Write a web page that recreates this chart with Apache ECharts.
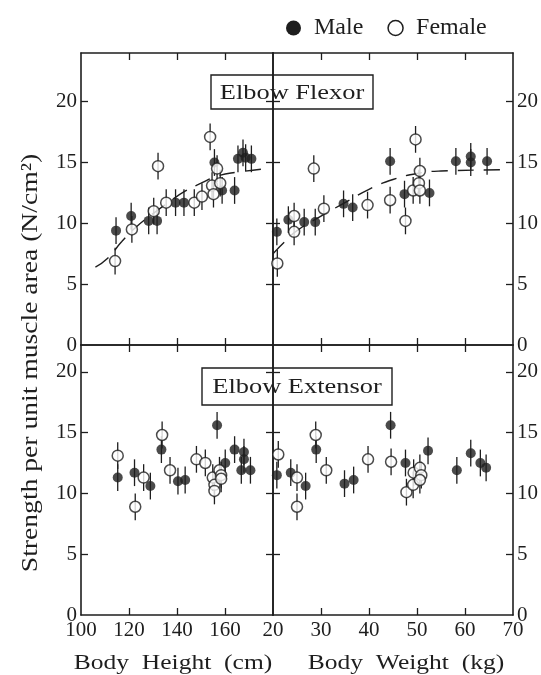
<!DOCTYPE html>
<html>
<head>
<meta charset="utf-8">
<script src="https://cdn.jsdelivr.net/npm/echarts@6/dist/echarts.min.js"></script>
<style>
  html, body { margin: 0; padding: 0; background: #fff; }
  #chart { width: 541px; height: 675px; }
</style>
</head>
<body>
<div id="chart"></div>
<script>
// Elbow flexor, strength vs body height (cm)
var flexHeightMale = [[114.6, 9.4], [120.9, 10.6], [128.2, 10.2], [131.7, 10.2], [139.4, 11.7], [142.9, 11.7],
  [155.6, 15.0], [158.8, 12.7], [164.0, 12.7], [165.4, 15.3], [167.5, 15.8], [168.6, 15.4], [171.0, 15.3]];
var flexHeightFemale = [[114.2, 6.9], [121.2, 9.5], [130.3, 11.0], [132.1, 14.7], [135.5, 11.7], [147.2, 11.7],
  [150.4, 12.2], [153.8, 17.1], [154.6, 13.1], [155.2, 12.4], [156.7, 14.5], [158.0, 13.3]];
var flexHeightFit = [[106, 6.4], [111, 7.1], [117, 8.5], [123, 9.7], [130, 10.8], [137, 11.8], [143, 12.6],
  [150, 13.3], [157, 13.9], [165, 14.2], [178, 14.5]];

// Elbow flexor, strength vs body weight (kg)
var flexWeightMale = [[20.8, 9.3], [23.2, 10.3], [26.5, 10.1], [28.8, 10.1], [34.7, 11.6], [36.6, 11.3],
  [44.4, 15.1], [47.4, 12.4], [52.6, 12.5], [58.1, 15.1], [61.2, 15.5], [61.2, 15.0], [64.6, 15.1]];
var flexWeightFemale = [[20.9, 6.7], [24.4, 10.6], [24.4, 9.3], [28.5, 14.5], [30.6, 11.2], [39.7, 11.5],
  [44.4, 11.9], [47.6, 10.2], [49.2, 12.7], [49.7, 16.9], [50.6, 14.3], [50.4, 13.3], [50.6, 12.7]];
var flexWeightFit = [[20, 7.5], [22.5, 8.5], [25, 9.4], [30, 10.6], [35, 11.7], [40, 12.8], [45, 13.6],
  [50, 14.1], [55, 14.3], [68, 14.4]];

// Elbow extensor, strength vs body height (cm)
var extHeightMale = [[115.3, 11.3], [122.3, 11.7], [128.9, 10.6], [133.5, 13.6], [140.4, 11.0], [143.4, 11.1],
  [156.7, 15.6], [160.1, 12.5], [164.0, 13.6], [167.9, 13.4], [167.9, 12.8], [166.8, 11.9], [170.6, 11.9]];
var extHeightFemale = [[115.3, 13.1], [122.6, 8.9], [126.1, 11.3], [133.8, 14.8], [137.1, 11.9], [148.1, 12.8],
  [151.8, 12.5], [154.9, 11.3], [155.6, 10.7], [155.6, 10.2], [157.7, 11.9], [158.4, 11.5], [158.4, 11.2]];

// Elbow extensor, strength vs body weight (kg)
var extWeightMale = [[20.8, 11.5], [23.7, 11.7], [26.8, 10.6], [29.0, 13.6], [34.9, 10.8], [36.8, 11.1],
  [44.5, 15.6], [47.6, 12.5], [52.3, 13.5], [58.3, 11.9], [61.2, 13.3], [63.2, 12.5], [64.4, 12.1]];
var extWeightFemale = [[21.1, 13.2], [25.0, 11.3], [25.0, 8.9], [28.9, 14.8], [31.1, 11.9], [39.8, 12.8],
  [44.6, 12.6], [47.8, 10.1], [49.2, 10.7], [49.3, 11.7], [50.6, 12.1], [50.9, 11.5], [50.6, 11.1]];

var heightTicks = [100, 120, 140, 160];
var weightTicks = [20, 30, 40, 50, 60, 70];
var strengthTicks = [0, 5, 10, 15, 20];
var ERR = 1.1;

var ink = '#1e1e1e';
var font = 'Liberation Serif';

var myChart = echarts.init(document.getElementById('chart'));

function xAx(grid, min, max, pos, labels, ticks) {
  return {
    type: 'value', gridIndex: grid, min: min, max: max, position: pos,
    axisLine: { show: true, onZero: false, lineStyle: { color: ink, width: 1.6 } },
    axisTick: { show: true, inside: true, length: 7, customValues: ticks, lineStyle: { color: ink, width: 1.3 } },
    axisLabel: { show: !!labels, customValues: labels || [], margin: 5, fontSize: 21, fontFamily: font, color: ink },
    splitLine: { show: false }
  };
}
function yAx(grid, max, pos, labels, ticks) {
  return {
    type: 'value', gridIndex: grid, min: 0, max: max, position: pos,
    axisLine: { show: true, onZero: false, lineStyle: { color: ink, width: 1.6 } },
    axisTick: { show: true, inside: true, length: 7, customValues: ticks, lineStyle: { color: ink, width: 1.3 } },
    axisLabel: { show: !!labels, customValues: labels || [], margin: 4, fontSize: 21, fontFamily: font, color: ink },
    splitLine: { show: false }
  };
}

function errBars(name, pts, xi, yi) {
  return {
    type: 'custom', name: name, xAxisIndex: xi, yAxisIndex: yi, data: pts, z: 2, silent: true,
    renderItem: function (params, api) {
      var a = api.coord([api.value(0), api.value(1) + ERR]);
      var b = api.coord([api.value(0), api.value(1) - ERR]);
      return { type: 'line', shape: { x1: a[0], y1: a[1], x2: b[0], y2: b[1] },
        style: { stroke: ink, lineWidth: 1.3 } };
    }
  };
}
function dots(name, pts, xi, yi) {
  var male = name === 'Male';
  return {
    type: 'scatter', name: name, xAxisIndex: xi, yAxisIndex: yi, data: pts, z: 3,
    symbol: 'circle', symbolSize: male ? 10 : 11,
    itemStyle: male ? { color: ink } : { color: '#fff', borderColor: ink, borderWidth: 1.5 }
  };
}
function fit(pts, xi, yi) {
  return {
    type: 'line', name: 'fit', xAxisIndex: xi, yAxisIndex: yi, data: pts, z: 1, smooth: true,
    showSymbol: false, silent: true,
    lineStyle: { color: ink, width: 1.4, type: [16, 10] }
  };
}

var series = [];
var panels = [
  [flexHeightMale, flexHeightFemale, 0, 0],
  [flexWeightMale, flexWeightFemale, 2, 2],
  [extHeightMale, extHeightFemale, 4, 4],
  [extWeightMale, extWeightFemale, 6, 6]
];
panels.forEach(function (p) {
  series.push(errBars('Male', p[0], p[2], p[3]));
  series.push(errBars('Female', p[1], p[2], p[3]));
  series.push(dots('Male', p[0], p[2], p[3]));
  series.push(dots('Female', p[1], p[2], p[3]));
});
series.push(fit(flexHeightFit, 0, 0));
series.push(fit(flexWeightFit, 2, 2));

function titleBox(x, y, w, h, txt) {
  return {
    type: 'group', z: 100,
    children: [
      { type: 'rect', shape: { x: x, y: y, width: w, height: h },
        style: { fill: '#fff', stroke: ink, lineWidth: 1.4 } },
      { type: 'text', x: x + w / 2, y: y + h / 2 + 1, scaleX: 1.2,
        style: { text: txt, fill: ink, font: '22px "Liberation Serif"', align: 'center', verticalAlign: 'middle' } }
    ]
  };
}

var option = {
  backgroundColor: '#fff',
  animation: false,
  legend: {
    left: 281, top: 11, itemGap: 24, itemWidth: 15, itemHeight: 15,
    textStyle: { fontSize: 24, fontFamily: font, color: ink, padding: [0, 0, 0, 8] },
    data: [
      { name: 'Male', icon: 'circle', itemStyle: { color: ink } },
      { name: 'Female', icon: 'circle', itemStyle: { color: '#fff', borderColor: ink, borderWidth: 1.5 } }
    ]
  },
  grid: [
    { left: 81, top: 53, width: 192, height: 292 },
    { left: 273, top: 53, width: 242, height: 292 },
    { left: 81, top: 345, width: 192, height: 270 },
    { left: 273, top: 345, width: 242, height: 270 }
  ],
  xAxis: [
    xAx(0, 100, 180, 'bottom', null, [120, 140, 160]),
    xAx(0, 100, 180, 'top', null, [120, 140, 160]),
    xAx(1, 20, 70, 'bottom', null, [30, 40, 50, 60]),
    xAx(1, 20, 70, 'top', null, [30, 40, 50, 60]),
    xAx(2, 100, 180, 'bottom', heightTicks, [120, 140, 160]),
    xAx(2, 100, 180, 'top', null, [120, 140, 160]),
    xAx(3, 20, 70, 'bottom', weightTicks, [30, 40, 50, 60]),
    xAx(3, 20, 70, 'top', null, [30, 40, 50, 60])
  ],
  yAxis: [
    yAx(0, 24, 'left', strengthTicks, [5, 10, 15, 20]),
    yAx(0, 24, 'right', null, [5, 10, 15, 20]),
    yAx(1, 24, 'left', null, [5, 10, 15, 20]),
    yAx(1, 24, 'right', strengthTicks, [5, 10, 15, 20]),
    yAx(2, 22.2, 'left', strengthTicks, [5, 10, 15, 20]),
    yAx(2, 22.2, 'right', null, [5, 10, 15, 20]),
    yAx(3, 22.2, 'left', null, [5, 10, 15, 20]),
    yAx(3, 22.2, 'right', strengthTicks, [5, 10, 15, 20])
  ],
  graphic: [
    titleBox(211, 75, 162, 34, 'Elbow Flexor'),
    titleBox(202, 368, 190, 37, 'Elbow Extensor'),
    { type: 'text', x: 31, y: 363, rotation: Math.PI / 2, scaleX: 1.2,
      style: { text: 'Strength per unit muscle area (N/cm²)', fill: ink, font: '23px "Liberation Serif"',
        align: 'center', verticalAlign: 'middle' } },
    { type: 'text', x: 173, y: 663, scaleX: 1.16,
      style: { text: 'Body  Height  (cm)', fill: ink, font: '22px "Liberation Serif"', align: 'center', verticalAlign: 'middle' } },
    { type: 'text', x: 406, y: 663, scaleX: 1.16,
      style: { text: 'Body  Weight  (kg)', fill: ink, font: '22px "Liberation Serif"', align: 'center', verticalAlign: 'middle' } }
  ],
  series: series
};

myChart.setOption(option);
</script>
</body>
</html>
